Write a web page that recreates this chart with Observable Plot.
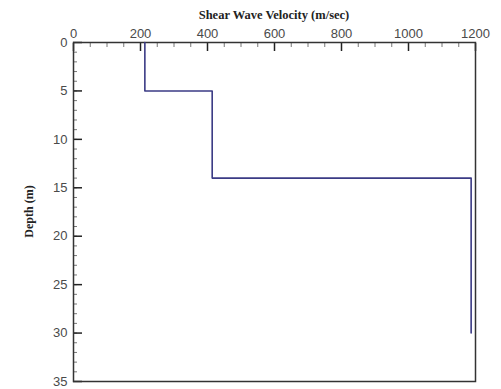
<!DOCTYPE html>
<html>
<head>
<meta charset="utf-8">
<script src="https://cdn.jsdelivr.net/npm/d3@7"></script>
<script src="https://cdn.jsdelivr.net/npm/@observablehq/plot@0.6"></script>
<style>
  html, body { margin: 0; padding: 0; background: #fff; }
  #chart svg { display: block; }
</style>
</head>
<body>
<div id="chart"></div>
<script>
// Layer model
const layerTop = [0, 5, 14];
const layerBottom = [5, 14, 30];
const velocity = [213, 414, 1187];

// Axis ticks
const xMajorTicks = [0, 200, 400, 600, 800, 1000, 1200];
const xMinorTicks = d3.range(0, 1201, 50);
const yMajorTicks = [0, 5, 10, 15, 20, 25, 30, 35];
const yMinorTicks = d3.range(0, 36, 1);

const xTitle = "Shear Wave Velocity (m/sec)";
const yTitle = "Depth (m)";

const profile = [];
velocity.forEach((v, i) => {
  profile.push({v, d: layerTop[i]});
  profile.push({v, d: layerBottom[i]});
});

const W = 501, H = 389;
const mLeft = 73, mRight = 26, mTop = 42, mBottom = 8;

const tickColor = "#222";
const labelColor = "#4a4a4a";
const fmt = d => String(d);

const chart = Plot.plot({
  width: W,
  height: H,
  marginLeft: mLeft,
  marginRight: mRight,
  marginTop: mTop,
  marginBottom: mBottom,
  style: {fontFamily: "'Liberation Sans', Arial, sans-serif", fontSize: "13px", background: "#fff"},
  x: {domain: [0, 1200]},
  y: {domain: [0, 35], reverse: true},
  marks: [
    // minor ticks (inward)
    Plot.axisX(xMinorTicks, {anchor: "top", tickSize: -4, text: null, label: null, stroke: "#777"}),
    Plot.axisY(yMinorTicks, {anchor: "left", tickSize: -4, text: null, label: null, stroke: "#777"}),
    // major ticks (inward)
    Plot.axisX(xMajorTicks, {anchor: "top", tickSize: -8, text: null, label: null, stroke: tickColor, strokeWidth: 1.5}),
    Plot.axisY(yMajorTicks, {anchor: "left", tickSize: -9, text: null, label: null, stroke: tickColor, strokeWidth: 1.5}),
    // tick labels
    Plot.axisX(xMajorTicks, {anchor: "top", tickSize: 0, tickPadding: 5, tickFormat: fmt, label: null, fill: labelColor, fontSize: 13}),
    Plot.axisY(yMajorTicks, {anchor: "left", tickSize: 0, tickPadding: 6, tickFormat: fmt, label: null, fill: labelColor, fontSize: 13}),
    Plot.frame({stroke: "#333", strokeWidth: 1.5}),
    Plot.line(profile, {x: "v", y: "d", stroke: "#3b3b85", strokeWidth: 1.6})
  ]
});

const svg = d3.select(chart);
svg.append("text")
  .attr("x", mLeft + (W - mLeft - mRight) / 2)
  .attr("y", 19)
  .attr("text-anchor", "middle")
  .attr("font-family", "'Liberation Serif', 'Times New Roman', serif")
  .attr("font-weight", "bold")
  .attr("font-size", 12.5)
  .attr("fill", "#222")
  .text(xTitle);
svg.append("text")
  .attr("transform", `translate(33,${mTop + (H - mTop - mBottom) / 2}) rotate(-90)`)
  .attr("text-anchor", "middle")
  .attr("font-family", "'Liberation Serif', 'Times New Roman', serif")
  .attr("font-weight", "bold")
  .attr("font-size", 12)
  .attr("fill", "#222")
  .text(yTitle);

document.getElementById("chart").appendChild(chart);
</script>
</body>
</html>
